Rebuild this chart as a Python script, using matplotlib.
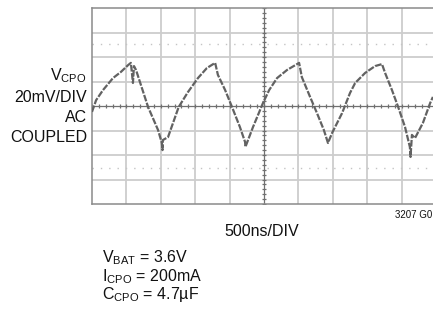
import matplotlib
matplotlib.use("Agg")
import matplotlib.pyplot as plt
from matplotlib import font_manager

# ---- data (time in divisions of 500ns, voltage in divisions of 20mV) ----
t_div = [0.00, 0.12, 0.32, 0.61, 0.84, 1.05, 1.13, 1.19, 1.22, 1.28, 1.63, 1.92, 2.03, 2.05, 2.06,
         2.21, 2.52, 2.79, 3.08, 3.34, 3.58, 3.66, 3.87, 4.07, 4.30, 4.45, 4.46, 4.68, 4.97,
         5.15, 5.38, 5.67, 6.02, 6.10, 6.34, 6.54, 6.74, 6.86, 6.98, 7.27, 7.50, 7.65, 7.94,
         8.23, 8.43, 8.52, 8.72, 8.90, 9.10, 9.24, 9.26, 9.30, 9.39, 9.62, 9.83, 9.91]
v_div = [-0.24, 0.24, 0.65, 1.14, 1.39, 1.67, 1.76, 0.94, 1.63, 1.47, -0.04, -0.98, -1.51, -1.80, -1.39,
         -1.27, -0.04, 0.57, 1.14, 1.55, 1.76, 1.27, 0.65, -0.04, -0.86, -1.47, -1.67, -0.86, 0.12,
         0.65, 1.14, 1.47, 1.76, 1.18, 0.37, -0.29, -0.98, -1.51, -1.10, -0.29, 0.53, 0.94, 1.35,
         1.63, 1.71, 1.35, 0.65, -0.04, -0.86, -1.67, -2.08, -1.18, -1.31, -0.69, 0.12, 0.37]
x_divisions = 10
y_divisions = 8
marker_levels = [2.55, -2.55]

label_lines = ["V$_{\\mathrm{CPO}}$", "20mV/DIV", "AC", "COUPLED"]
x_label = "500ns/DIV"
fig_code = "3207 G0"
cond_lines = ["V$_{\\mathrm{BAT}}$ = 3.6V", "I$_{\\mathrm{CPO}}$ = 200mA", "C$_{\\mathrm{CPO}}$ = 4.7\u00b5F"]

# ---- fonts ----
names = {f.name for f in font_manager.fontManager.ttflist}
fam = "Liberation Sans Narrow" if "Liberation Sans Narrow" in names else "Liberation Sans"
plt.rcParams['font.family'] = [fam, 'DejaVu Sans']
plt.rcParams['mathtext.fontset'] = 'custom'
plt.rcParams['mathtext.rm'] = fam
plt.rcParams['mathtext.it'] = fam
plt.rcParams['mathtext.bf'] = fam

W, H = 433, 314
fig = plt.figure(figsize=(W / 100, H / 100), dpi=100)

def fx(px):
    return px / W

def fy(py):
    return 1 - py / H

left_px, top_px, right_px, bot_px = 92, 8, 436, 204
ax = fig.add_axes([fx(left_px), fy(bot_px), (right_px - left_px) / W, (bot_px - top_px) / H])
ax.set_xlim(0, x_divisions)
ax.set_ylim(-y_divisions / 2, y_divisions / 2)
ax.set_xticks([])
ax.set_yticks([])
for s in ['left', 'top', 'bottom', 'right']:
    ax.spines[s].set_color('#8a8a8a')
    ax.spines[s].set_linewidth(1.1)

grid_c = '#cdcdcd'
for i in range(1, x_divisions):
    if i != x_divisions // 2:
        ax.axvline(i, color=grid_c, lw=1.3, zorder=1)
for j in range(-y_divisions // 2 + 1, y_divisions // 2):
    if j != 0:
        ax.axhline(j, color=grid_c, lw=1.3, zorder=1)

for lv in marker_levels:
    ax.axhline(lv, color='#c4c4c4', lw=1.0, linestyle=(0, (1, 5)), zorder=1)

# center axes with minor tick marks
ax.axhline(0, color='#707070', lw=0.9, zorder=2)
ax.axvline(x_divisions / 2, color='#707070', lw=0.9, zorder=2)
ticks_x = [k * 0.2 for k in range(0, x_divisions * 5 + 1)]
ax.plot(ticks_x, [0] * len(ticks_x), linestyle='none', marker='|', ms=3.0, mew=0.9, color='#707070', zorder=2)
ticks_y = [-y_divisions / 2 + k * 0.2 for k in range(0, y_divisions * 5 + 1)]
ax.plot([x_divisions / 2] * len(ticks_y), ticks_y, linestyle='none', marker='_', ms=2.5, mew=0.9, color='#707070', zorder=2)

# trace
ax.plot(t_div, v_div, color='#626262', lw=1.6, linestyle=(0, (3, 0.7)), zorder=3,
        dash_capstyle='butt')

# left label
ys = [76, 97, 117, 138]
for txt, y in zip(label_lines, ys):
    fig.text(fx(87), fy(y), txt, ha='right', va='center', fontsize=11.5, color='#111111')

fig.text(fx(262), fy(232), x_label, ha='center', va='center', fontsize=11.5, color='#111111')
fig.text(fx(432), fy(215), fig_code, ha='right', va='center', fontsize=7, color='#111111')

ys2 = [258, 277, 295]
for txt, y in zip(cond_lines, ys2):
    fig.text(fx(102), fy(y), txt, ha='left', va='center', fontsize=11.5, color='#111111')

fig.savefig("out.png", dpi=100)
